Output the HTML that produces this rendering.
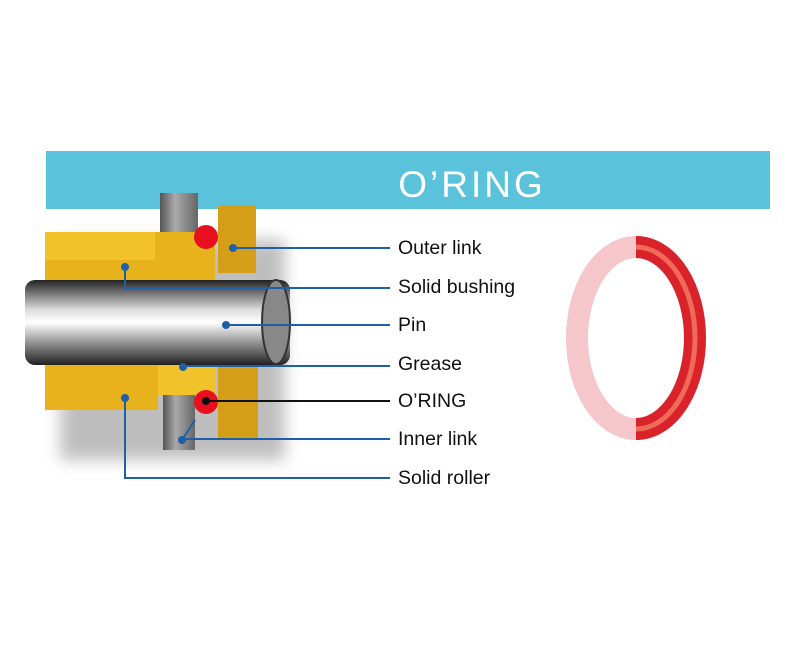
<!DOCTYPE html>
<html><head><style>
body{margin:0;background:#fff;width:794px;height:656px;overflow:hidden;position:relative;font-family:"Liberation Sans",sans-serif}
</style></head><body>
<svg width="794" height="656" style="position:absolute;left:0;top:0">
<defs>
<linearGradient id="pin" x1="0" y1="0" x2="0" y2="1">
<stop offset="0" stop-color="#222"/><stop offset="0.35" stop-color="#ddd"/><stop offset="0.5" stop-color="#fff"/><stop offset="0.8" stop-color="#777"/><stop offset="1" stop-color="#222"/></linearGradient>
<linearGradient id="gray" x1="0" x2="1"><stop offset="0" stop-color="#555"/><stop offset="0.4" stop-color="#aaa"/><stop offset="1" stop-color="#666"/></linearGradient>
<filter id="sh"><feGaussianBlur stdDeviation="8"/></filter>
</defs>
<rect x="46" y="151" width="724" height="58" fill="#5bc2dc"/>
<text x="472" y="197" font-size="37" fill="#fff" text-anchor="middle" letter-spacing="3">O’RING</text>
<rect x="60" y="240" width="225" height="220" fill="#000" opacity="0.25" filter="url(#sh)"/>
<rect x="160" y="193" width="38" height="65" fill="url(#gray)"/>
<rect x="163" y="385" width="32" height="65" fill="url(#gray)"/>
<rect x="45" y="232" width="170" height="48" fill="#e7b21c"/>
<rect x="45" y="232" width="110" height="28" fill="#f1c22a"/>
<rect x="218" y="205" width="38" height="68" fill="#d59e18"/>
<rect x="45" y="365" width="170" height="30" fill="#f1c22a"/>
<rect x="45" y="365" width="113" height="45" fill="#e7b21c"/>
<rect x="218" y="365" width="40" height="75" fill="#d59e18"/>
<rect x="25" y="280" width="265" height="85" rx="10" fill="url(#pin)"/>
<ellipse cx="276" cy="322" rx="14" ry="42" fill="#888" stroke="#333" stroke-width="2"/>
<circle cx="206" cy="237" r="12" fill="#e8101e"/>
<circle cx="206" cy="402" r="12" fill="#e8101e"/>
<g stroke="#1f5fa6" stroke-width="2" fill="none">
<path d="M233 248H390"/><path d="M125 267V288H390"/><path d="M226 325H390"/><path d="M183 366H390"/>
<path d="M182 440L195 420M182 439H390"/><path d="M125 398V478H390"/>
</g>
<path d="M206 401H390" stroke="#111" stroke-width="2"/>
<g fill="#1f5fa6"><circle cx="233" cy="248" r="4"/><circle cx="125" cy="267" r="4"/><circle cx="226" cy="325" r="4"/><circle cx="183" cy="367" r="4"/><circle cx="182" cy="440" r="4"/><circle cx="125" cy="398" r="4"/></g>
<circle cx="206" cy="401" r="4" fill="#111"/>
<g font-size="19.5" fill="#111">
<text x="398" y="254">Outer link</text><text x="398" y="293">Solid bushing</text><text x="398" y="331">Pin</text><text x="398" y="370">Grease</text><text x="398" y="407">O’RING</text><text x="398" y="445">Inner link</text><text x="398" y="484">Solid roller</text>
</g>
<ellipse cx="636" cy="338" rx="59" ry="91" fill="none" stroke="#f5c6ca" stroke-width="22"/>
<path d="M636 247 A59 91 0 0 1 636 429" fill="none" stroke="#d9222a" stroke-width="22"/>
<path d="M636 247 A59 91 0 0 1 636 429" fill="none" stroke="#f06a5a" stroke-width="5"/>
</svg>
</body></html>
